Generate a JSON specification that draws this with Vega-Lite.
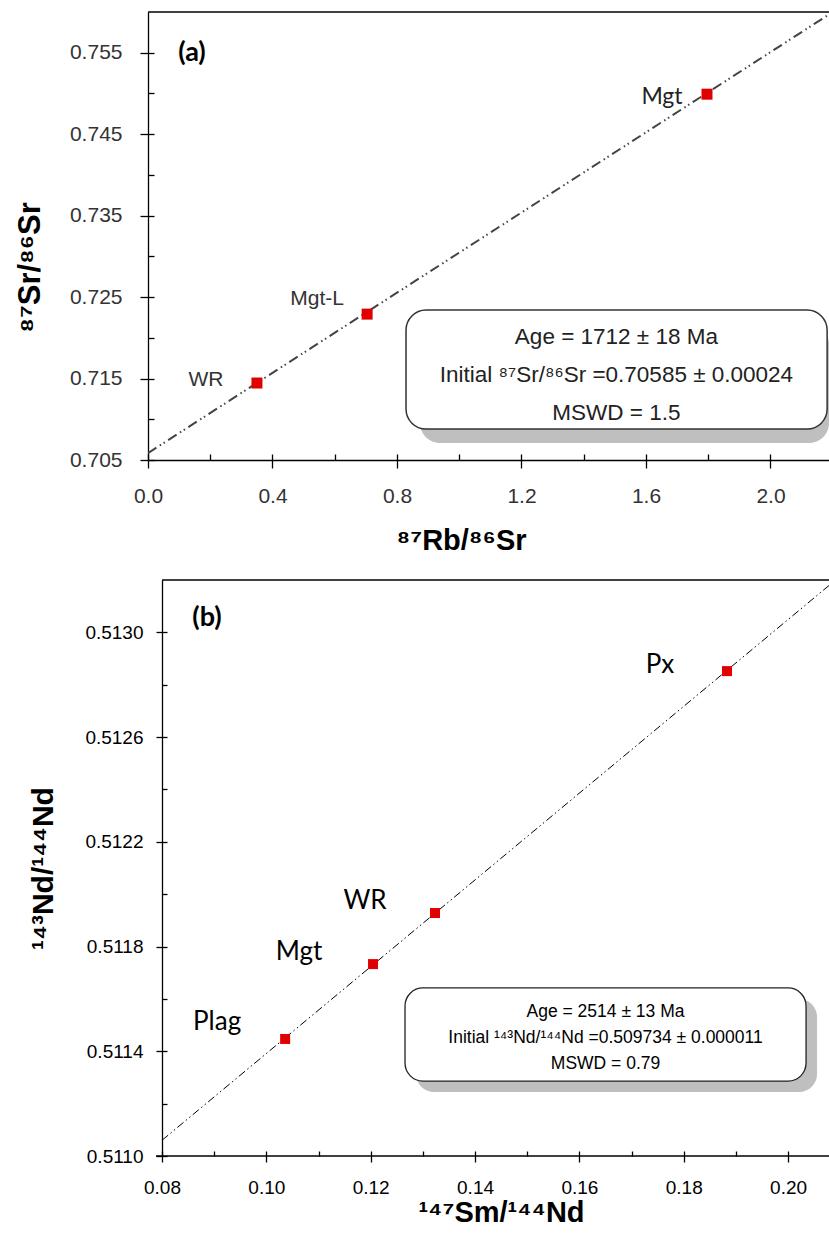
{
  "$schema": "https://vega.github.io/schema/vega-lite/v6.json",
  "padding": {"left": 14, "top": 11, "right": 0, "bottom": 0},
  "autosize": {"type": "pad"},
  "background": "white",
  "bounds": "flush",
  "spacing": 120,
  "config": {
    "view": {"stroke": null},
    "axis": {"grid": false, "domainColor": "#000", "tickColor": "#000", "labelFlush": false, "labelOverlap": false, "domainWidth": 1.3, "tickWidth": 1.3}
  },
  "datasets": {
    "srPoints": [
      {"sample": "WR", "x": 0.350, "y": 0.71445},
      {"sample": "Mgt-L", "x": 0.704, "y": 0.72291},
      {"sample": "Mgt", "x": 1.796, "y": 0.74991}
    ],
    "srLine": [
      {"x": 0, "y": 0.70585},
      {"x": 2.188, "y": 0.7597}
    ],
    "ndPoints": [
      {"sample": "Plag", "x": 0.1036, "y": 0.511447},
      {"sample": "Mgt", "x": 0.12045, "y": 0.511733},
      {"sample": "WR", "x": 0.13233, "y": 0.511928},
      {"sample": "Px", "x": 0.1883, "y": 0.512852}
    ],
    "ndLine": [
      {"x": 0.08, "y": 0.51106},
      {"x": 0.20785, "y": 0.513179}
    ],
    "one": [{}]
  },
  "vconcat": [
    {
      "width": 681,
      "height": 448,
      "resolve": {"axis": {"x": "independent", "y": "independent"}},
      "layer": [
        {
          "data": {"name": "srLine"},
          "mark": {"type": "line", "stroke": "#444", "strokeWidth": 2, "strokeDash": [10, 4, 1.5, 3, 1.5, 4], "clip": true},
          "encoding": {
            "x": {"field": "x", "type": "quantitative", "scale": {"domain": [0, 2.188], "nice": false, "zero": false},
              "axis": {"title": "⁸⁷Rb/⁸⁶Sr", "values": [0, 0.4, 0.8, 1.2, 1.6, 2.0], "format": ".1f", "tickSize": 8, "labelPadding": 17,
                "labelFont": "Liberation Sans", "labelFontSize": 21, "labelColor": "#333",
                "titleFont": "Liberation Sans", "titleFontSize": 29, "titleFontWeight": "bold", "titleColor": "#000",
                "titlePadding": 19, "titleX": 313, "minExtent": 47, "maxExtent": 47}},
            "y": {"field": "y", "type": "quantitative", "scale": {"domain": [0.705, 0.76], "nice": false, "zero": false},
              "axis": {"title": "⁸⁷Sr/⁸⁶Sr", "values": [0.705, 0.715, 0.725, 0.735, 0.745, 0.755], "format": ".3f", "tickSize": 8, "labelPadding": 18,
                "labelFont": "Liberation Sans", "labelFontSize": 21, "labelColor": "#333",
                "titleFont": "Liberation Sans", "titleFontSize": 31, "titleFontWeight": "bold", "titleColor": "#000",
                "titlePadding": 42, "titleY": 255, "minExtent": 60, "maxExtent": 60}}
          }
        },
        {
          "data": {"name": "srPoints"},
          "mark": {"type": "point", "opacity": 0},
          "encoding": {
            "x": {"field": "x", "type": "quantitative",
              "axis": {"orient": "bottom", "title": null, "labels": false, "domain": false, "tickSize": -6, "values": [0, 0.2, 0.4, 0.6, 0.8, 1.0, 1.2, 1.4, 1.6, 1.8, 2.0], "minExtent": 0, "maxExtent": 0}},
            "y": {"field": "y", "type": "quantitative",
              "axis": {"orient": "left", "title": null, "labels": false, "domain": false, "tickSize": -6, "values": [0.705, 0.71, 0.715, 0.72, 0.725, 0.73, 0.735, 0.74, 0.745, 0.75, 0.755], "minExtent": 0, "maxExtent": 0}}
          }
        },
        {
          "data": {"name": "one"},
          "mark": {"type": "rect", "fill": "#bfbfbf", "cornerRadius": 20},
          "encoding": {
            "x": {"datum": 0.874, "type": "quantitative", "axis": null},
            "x2": {"datum": 2.188},
            "y": {"datum": 0.70708, "type": "quantitative", "axis": null},
            "y2": {"datum": 0.72168}
          }
        },
        {
          "data": {"name": "one"},
          "mark": {"type": "rect", "fill": "white", "stroke": "#333", "strokeWidth": 1.5, "cornerRadius": 20},
          "encoding": {
            "x": {"datum": 0.829, "type": "quantitative", "axis": null},
            "x2": {"datum": 2.182},
            "y": {"datum": 0.7088, "type": "quantitative", "axis": null},
            "y2": {"datum": 0.7234}
          }
        },
        {
          "data": {"name": "one"},
          "mark": {"type": "text", "font": "Liberation Sans", "fontSize": 22.5, "color": "#222", "align": "center", "baseline": "middle", "lineHeight": 38},
          "encoding": {
            "x": {"datum": 1.505, "type": "quantitative", "axis": null},
            "y": {"datum": 0.72009, "type": "quantitative", "axis": null},
            "text": {"value": ["Age = 1712 ± 18 Ma", "Initial ⁸⁷Sr/⁸⁶Sr =0.70585 ± 0.00024", "MSWD = 1.5"]}
          }
        },
        {
          "data": {"name": "srPoints"},
          "mark": {"type": "square", "size": 121, "color": "#e00000", "opacity": 1, "filled": true},
          "encoding": {
            "x": {"field": "x", "type": "quantitative", "axis": null},
            "y": {"field": "y", "type": "quantitative", "axis": null}
          }
        },
        {
          "data": {"name": "srPoints"},
          "transform": [{"filter": "datum.sample === 'WR'"}],
          "mark": {"type": "text", "font": "Liberation Sans", "fontSize": 21, "color": "#333", "align": "center", "baseline": "middle", "dx": -51, "dy": -3},
          "encoding": {
            "x": {"field": "x", "type": "quantitative", "axis": null},
            "y": {"field": "y", "type": "quantitative", "axis": null},
            "text": {"field": "sample"}
          }
        },
        {
          "data": {"name": "srPoints"},
          "transform": [{"filter": "datum.sample === 'Mgt-L'"}],
          "mark": {"type": "text", "font": "Liberation Sans", "fontSize": 21, "color": "#333", "align": "center", "baseline": "middle", "dx": -50, "dy": -15},
          "encoding": {
            "x": {"field": "x", "type": "quantitative", "axis": null},
            "y": {"field": "y", "type": "quantitative", "axis": null},
            "text": {"field": "sample"}
          }
        },
        {
          "data": {"name": "srPoints"},
          "transform": [{"filter": "datum.sample === 'Mgt'"}],
          "mark": {"type": "text", "font": "Lato", "fontSize": 23, "color": "#222", "align": "center", "baseline": "middle", "dx": -45, "dy": 3},
          "encoding": {
            "x": {"field": "x", "type": "quantitative", "axis": null},
            "y": {"field": "y", "type": "quantitative", "axis": null},
            "text": {"field": "sample"}
          }
        },
        {
          "data": {"name": "one"},
          "mark": {"type": "text", "font": "Lato", "fontSize": 27, "fontWeight": "bold", "color": "#000", "align": "center", "baseline": "middle"},
          "encoding": {
            "x": {"datum": 0.1414, "type": "quantitative", "axis": null},
            "y": {"datum": 0.75494, "type": "quantitative", "axis": null},
            "text": {"value": "(a)"}
          }
        },
        {
          "data": {"name": "one"},
          "mark": {"type": "rule", "color": "#000", "strokeWidth": 1.3},
          "encoding": {
            "y": {"datum": 0.76, "type": "quantitative", "axis": null}
          }
        }
      ]
    },
    {
      "width": 681,
      "height": 576,
      "resolve": {"axis": {"x": "independent", "y": "independent"}},
      "layer": [
        {
          "data": {"name": "ndLine"},
          "mark": {"type": "line", "stroke": "#000", "strokeWidth": 1, "strokeDash": [8, 3, 1.5, 3, 1.5, 3], "clip": true},
          "encoding": {
            "x": {"field": "x", "type": "quantitative", "scale": {"domain": [0.077316, 0.20785], "nice": false, "zero": false},
              "axis": {"title": "¹⁴⁷Sm/¹⁴⁴Nd", "values": [0.08, 0.10, 0.12, 0.14, 0.16, 0.18, 0.20], "format": ".2f", "tickSize": 6, "labelPadding": 16, "domain": false,
                "labelFont": "Liberation Sans", "labelFontSize": 19, "labelColor": "#000",
                "titleFont": "Liberation Sans", "titleFontSize": 29, "titleFontWeight": "bold", "titleColor": "#000",
                "titlePadding": 2, "titleX": 353, "minExtent": 40, "maxExtent": 40}},
            "y": {"field": "y", "type": "quantitative", "scale": {"domain": [0.511, 0.5132], "nice": false, "zero": false},
              "axis": {"title": "¹⁴³Nd/¹⁴⁴Nd", "values": [0.511, 0.5114, 0.5118, 0.5122, 0.5126, 0.513], "format": ".4f", "tickSize": 6, "labelPadding": 13, "offset": -14,
                "labelFont": "Liberation Sans", "labelFontSize": 19, "labelColor": "#000",
                "titleFont": "Liberation Sans", "titleFontSize": 30, "titleFontWeight": "bold", "titleColor": "#000",
                "titlePadding": 44, "minExtent": 60, "maxExtent": 60}}
          }
        },
        {
          "data": {"name": "ndPoints"},
          "mark": {"type": "point", "opacity": 0},
          "encoding": {
            "x": {"field": "x", "type": "quantitative",
              "axis": {"orient": "bottom", "title": null, "labels": false, "domain": false, "tickSize": -5, "values": [0.08, 0.09, 0.10, 0.11, 0.12, 0.13, 0.14, 0.15, 0.16, 0.17, 0.18, 0.19, 0.20], "minExtent": 0, "maxExtent": 0}},
            "y": {"field": "y", "type": "quantitative",
              "axis": {"orient": "left", "title": null, "labels": false, "domain": false, "tickSize": -5, "offset": -14, "values": [0.511, 0.5112, 0.5114, 0.5116, 0.5118, 0.512, 0.5122, 0.5124, 0.5126, 0.5128, 0.513], "minExtent": 0, "maxExtent": 0}}
          }
        },
        {
          "data": {"name": "one"},
          "mark": {"type": "rect", "fill": "#bfbfbf", "cornerRadius": 18},
          "encoding": {
            "x": {"datum": 0.12869, "type": "quantitative", "axis": null},
            "x2": {"datum": 0.20556},
            "y": {"datum": 0.511244, "type": "quantitative", "axis": null},
            "y2": {"datum": 0.5116}
          }
        },
        {
          "data": {"name": "one"},
          "mark": {"type": "rect", "fill": "white", "stroke": "#222", "strokeWidth": 1.3, "cornerRadius": 18},
          "encoding": {
            "x": {"datum": 0.12658, "type": "quantitative", "axis": null},
            "x2": {"datum": 0.20345},
            "y": {"datum": 0.511286, "type": "quantitative", "axis": null},
            "y2": {"datum": 0.511642}
          }
        },
        {
          "data": {"name": "one"},
          "mark": {"type": "text", "font": "Liberation Sans", "fontSize": 17.5, "color": "#000", "align": "center", "baseline": "middle", "lineHeight": 26},
          "encoding": {
            "x": {"datum": 0.16501, "type": "quantitative", "axis": null},
            "y": {"datum": 0.51155, "type": "quantitative", "axis": null},
            "text": {"value": ["Age = 2514 ± 13 Ma", "Initial ¹⁴³Nd/¹⁴⁴Nd =0.509734 ± 0.000011", "MSWD = 0.79"]}
          }
        },
        {
          "data": {"name": "ndPoints"},
          "mark": {"type": "square", "size": 100, "color": "#e00000", "opacity": 1, "filled": true},
          "encoding": {
            "x": {"field": "x", "type": "quantitative", "axis": null},
            "y": {"field": "y", "type": "quantitative", "axis": null}
          }
        },
        {
          "data": {"name": "ndPoints"},
          "transform": [{"filter": "datum.sample === 'Plag'"}],
          "mark": {"type": "text", "font": "Lato", "fontSize": 26, "color": "#000", "align": "center", "baseline": "middle", "dx": -68, "dy": -17},
          "encoding": {
            "x": {"field": "x", "type": "quantitative", "axis": null},
            "y": {"field": "y", "type": "quantitative", "axis": null},
            "text": {"field": "sample"}
          }
        },
        {
          "data": {"name": "ndPoints"},
          "transform": [{"filter": "datum.sample === 'Mgt'"}],
          "mark": {"type": "text", "font": "Lato", "fontSize": 26, "color": "#000", "align": "center", "baseline": "middle", "dx": -74, "dy": -12},
          "encoding": {
            "x": {"field": "x", "type": "quantitative", "axis": null},
            "y": {"field": "y", "type": "quantitative", "axis": null},
            "text": {"field": "sample"}
          }
        },
        {
          "data": {"name": "ndPoints"},
          "transform": [{"filter": "datum.sample === 'WR'"}],
          "mark": {"type": "text", "font": "Lato", "fontSize": 26, "color": "#000", "align": "center", "baseline": "middle", "dx": -70, "dy": -12},
          "encoding": {
            "x": {"field": "x", "type": "quantitative", "axis": null},
            "y": {"field": "y", "type": "quantitative", "axis": null},
            "text": {"field": "sample"}
          }
        },
        {
          "data": {"name": "ndPoints"},
          "transform": [{"filter": "datum.sample === 'Px'"}],
          "mark": {"type": "text", "font": "Lato", "fontSize": 26, "color": "#000", "align": "center", "baseline": "middle", "dx": -67, "dy": -6},
          "encoding": {
            "x": {"field": "x", "type": "quantitative", "axis": null},
            "y": {"field": "y", "type": "quantitative", "axis": null},
            "text": {"field": "sample"}
          }
        },
        {
          "data": {"name": "one"},
          "mark": {"type": "text", "font": "Lato", "fontSize": 27, "fontWeight": "bold", "color": "#000", "align": "center", "baseline": "middle"},
          "encoding": {
            "x": {"datum": 0.08863, "type": "quantitative", "axis": null},
            "y": {"datum": 0.513055, "type": "quantitative", "axis": null},
            "text": {"value": "(b)"}
          }
        },
        {
          "data": {"name": "one"},
          "mark": {"type": "rule", "color": "#000", "strokeWidth": 1.3},
          "encoding": {
            "x": {"datum": 0.08, "type": "quantitative", "axis": null},
            "x2": {"datum": 0.20785},
            "y": {"datum": 0.5132, "type": "quantitative", "axis": null}
          }
        },
        {
          "data": {"name": "one"},
          "mark": {"type": "rule", "color": "#000", "strokeWidth": 1.3},
          "encoding": {
            "x": {"datum": 0.07885, "type": "quantitative", "axis": null},
            "x2": {"datum": 0.20785},
            "y": {"datum": 0.511, "type": "quantitative", "axis": null}
          }
        }
      ]
    }
  ]
}
